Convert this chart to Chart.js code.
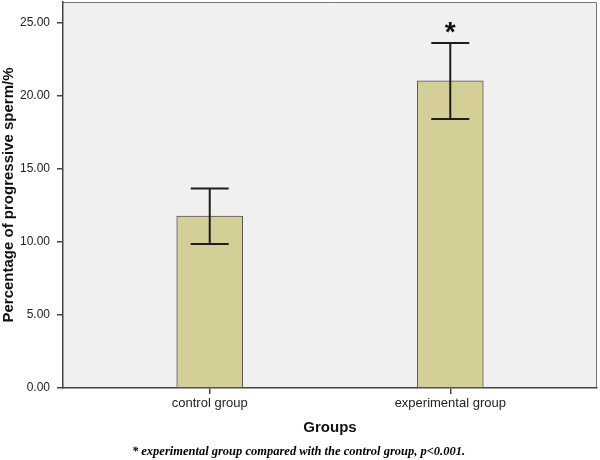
<!DOCTYPE html>
<html>
<head>
<meta charset="utf-8">
<script src="https://cdn.jsdelivr.net/npm/chart.js@4.4.0/dist/chart.umd.min.js"></script>
<style>
  html, body { margin: 0; padding: 0; background: #fff; }
  #wrap { width: 600px; height: 460px; }
</style>
</head>
<body>
<div id="wrap"><canvas id="myChart" width="600" height="460"></canvas></div>
<script>
// data
var groups = ['control group', 'experimental group'];
var means = [11.75, 21.0];
var upper = [13.65, 23.6];
var lower = [9.85, 18.4];
var marks = ['', '*'];
var yTicks = [0, 5, 10, 15, 20, 25];

// draws the grey plot box behind the bars
var plotBox = {
    id: 'plotBox',
    beforeDraw: function(chart) {
        var a = chart.chartArea, c = chart.ctx;
        c.save();
        c.fillStyle = '#f0f0f0';
        c.fillRect(a.left, a.top, a.right - a.left, a.bottom - a.top);
        c.strokeStyle = '#777';
        c.lineWidth = 1;
        c.beginPath();
        c.moveTo(a.left, a.top + 0.5);
        c.lineTo(a.right - 0.5, a.top + 0.5);
        c.lineTo(a.right - 0.5, a.bottom);
        c.stroke();
        c.restore();
    }
};

// error bars and significance mark, placed with the chart scales
var errorBars = {
    id: 'errorBars',
    afterDatasetsDraw: function(chart) {
        var c = chart.ctx, xs = chart.scales.x, ys = chart.scales.y;
        c.save();
        c.strokeStyle = '#1e1e1e';
        c.lineWidth = 2;
        groups.forEach(function(g, i) {
            var x = xs.getPixelForValue(i + 1);
            var yu = ys.getPixelForValue(upper[i]);
            var yl = ys.getPixelForValue(lower[i]);
            c.beginPath();
            c.moveTo(x, yu); c.lineTo(x, yl);
            c.moveTo(x - 19, yu); c.lineTo(x + 19, yu);
            c.moveTo(x - 19, yl); c.lineTo(x + 19, yl);
            c.stroke();
            if (marks[i]) {
                c.fillStyle = '#111';
                c.font = 'bold 28px "Liberation Sans", Arial, sans-serif';
                c.textAlign = 'center';
                c.textBaseline = 'alphabetic';
                c.fillText(marks[i], x, yu - 2);
            }
        });
        c.restore();
    }
};

var ctx = document.getElementById('myChart').getContext('2d');
var myChart = new Chart(ctx, {
    type: 'bar',
    data: {
        datasets: [{
            data: groups.map(function(g, i) { return { x: i + 1, y: means[i] }; }),
            backgroundColor: '#d4cf97',
            borderColor: '#555',
            borderWidth: 1,
            barThickness: 66
        }]
    },
    plugins: [plotBox, errorBars],
    options: {
        responsive: false,
        animation: false,
        layout: { padding: { top: 2, right: 3, left: 0, bottom: 0 } },
        plugins: {
            legend: { display: false },
            tooltip: { enabled: false },
            title: {
                display: true,
                position: 'bottom',
                text: '* experimental group compared with the control group, p<0.001.',
                color: '#000',
                font: { family: '"Liberation Serif", "Times New Roman", serif', style: 'italic', weight: 'bold', size: 12.5 },
                padding: { top: 0, bottom: 1 }
            }
        },
        scales: {
            x: {
                type: 'linear',
                offset: false,
                min: 0.39,
                max: 2.61,
                afterBuildTicks: function(scale) {
                    scale.ticks = groups.map(function(g, i) { return { value: i + 1 }; });
                },
                afterFit: function(scale) {
                    scale.height = 56;
                    scale.paddingLeft = 0;
                    scale.paddingRight = 0;
                },
                ticks: {
                    callback: function(v) { return groups[v - 1] || ''; },
                    color: '#222',
                    font: { family: '"Liberation Sans", Arial, sans-serif', size: 13 },
                    padding: 2,
                    maxRotation: 0,
                    autoSkip: false
                },
                grid: { offset: false, drawOnChartArea: false, tickLength: 6, color: '#444', lineWidth: 1.5 },
                border: { color: '#444', width: 1.5 },
                title: {
                    display: true,
                    text: 'Groups',
                    color: '#111',
                    font: { family: '"Liberation Sans", Arial, sans-serif', weight: 'bold', size: 15 },
                    padding: { top: 0, bottom: 7 }
                }
            },
            y: {
                min: 0,
                max: 26.4,
                afterBuildTicks: function(scale) {
                    scale.ticks = yTicks.map(function(v) { return { value: v }; });
                },
                afterFit: function(scale) {
                    scale.width = 63;
                    scale.paddingTop = 0;
                    scale.paddingBottom = 0;
                },
                ticks: {
                    callback: function(v) { return v.toFixed(2); },
                    color: '#222',
                    font: { family: '"Liberation Sans", Arial, sans-serif', size: 12 },
                    padding: 7
                },
                grid: { drawOnChartArea: false, tickLength: 6, color: '#444', lineWidth: 1.5 },
                border: { color: '#444', width: 1.5 },
                title: {
                    display: true,
                    text: 'Percentage of progressive sperm/%',
                    color: '#111',
                    font: { family: '"Liberation Sans", Arial, sans-serif', weight: 'bold', size: 15 },
                    padding: { top: 0, bottom: 0 }
                }
            }
        }
    }
});
</script>
</body>
</html>
